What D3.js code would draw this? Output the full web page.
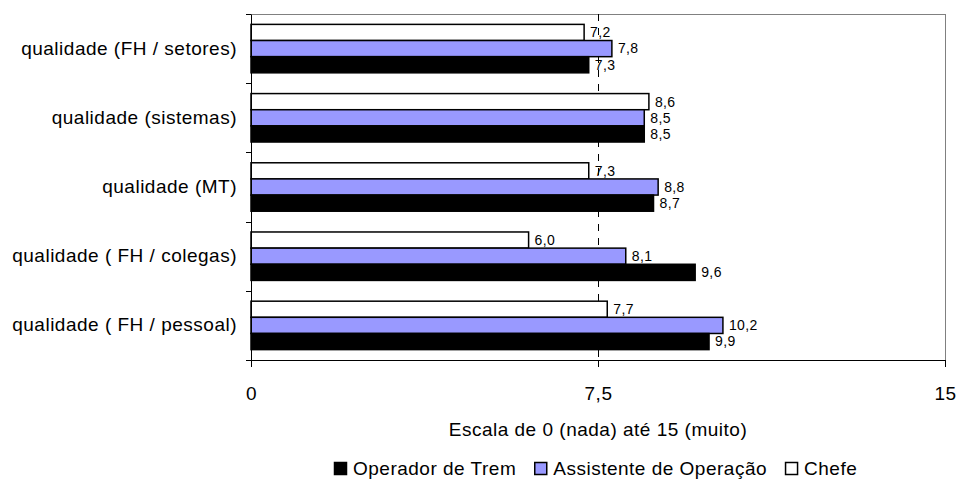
<!DOCTYPE html>
<html>
<head>
<meta charset="utf-8">
<script src="https://cdn.jsdelivr.net/npm/d3@7"></script>
<style>
  html, body { margin: 0; padding: 0; background: #ffffff; }
  svg { display: block; font-family: "Liberation Sans", Arial, sans-serif; }
</style>
</head>
<body>
<svg id="chart" width="958" height="480"></svg>
<script>
// ---- data ----
const categories = [
  "qualidade (FH / setores)",
  "qualidade (sistemas)",
  "qualidade (MT)",
  "qualidade ( FH / colegas)",
  "qualidade ( FH / pessoal)"
];
const seriesNames = ["Operador de Trem", "Assistente de Operação", "Chefe"];
const operadorTrem = [7.3, 8.5, 8.7, 9.6, 9.9];
const assistenteOperacao = [7.8, 8.5, 8.8, 8.1, 10.2];
const chefe = [7.2, 8.6, 7.3, 6.0, 7.7];
const xTicks = [0, 7.5, 15];
const axisTitle = "Escala de 0 (nada) até 15 (muito)";

(function () {
// ---- layout ----
const svg = d3.select("#chart");
const pLeft = 251, pRight = 945, pTop = 14, pBottom = 360;
const FS = 19, LS = 0.5;
const seriesColors = { "Operador de Trem": "#000000", "Assistente de Operação": "#9999FF", "Chefe": "#FFFFFF" };
// order within group from top to bottom
const drawOrder = ["Chefe", "Assistente de Operação", "Operador de Trem"];
const valuesBySeries = {
  "Operador de Trem": operadorTrem,
  "Assistente de Operação": assistenteOperacao,
  "Chefe": chefe
};
const fmt = v => d3.format(".1f")(v).replace(".", ",");

const x = d3.scaleLinear().domain([0, 15]).range([pLeft, pRight]);
const y = d3.scaleBand().domain(categories).range([pTop, pBottom]).paddingInner(0.3).paddingOuter(0.15);
const yInner = d3.scaleBand().domain(drawOrder).range([0, y.bandwidth()]).padding(0);

// plot border (top and right, gray)
svg.append("line").attr("x1", pLeft).attr("x2", pRight).attr("y1", pTop + 0.5).attr("y2", pTop + 0.5)
  .attr("stroke", "#808080").attr("stroke-width", 1);
svg.append("line").attr("x1", pRight + 0.5).attr("x2", pRight + 0.5).attr("y1", pTop).attr("y2", pBottom)
  .attr("stroke", "#808080").attr("stroke-width", 1);

// dashed gridline at 7.5
svg.append("line")
  .attr("x1", Math.round(x(7.5)) + 0.5).attr("x2", Math.round(x(7.5)) + 0.5)
  .attr("y1", pTop).attr("y2", pBottom)
  .attr("stroke", "#000").attr("stroke-width", 1).attr("stroke-dasharray", "7,7");

// bars
const groups = svg.append("g").selectAll("g").data(categories).join("g")
  .attr("transform", d => `translate(0,${y(d)})`);

groups.each(function (cat, i) {
  const g = d3.select(this);
  drawOrder.forEach(s => {
    const v = valuesBySeries[s][i];
    g.append("rect")
      .attr("x", x(0))
      .attr("y", yInner(s))
      .attr("width", x(v) - x(0))
      .attr("height", yInner.bandwidth())
      .attr("fill", seriesColors[s])
      .attr("stroke", "#000")
      .attr("stroke-width", 1.5);
    g.append("text")
      .attr("x", x(v) + 6)
      .attr("y", yInner(s) + yInner.bandwidth() / 2)
      .attr("dy", "0.35em")
      .attr("font-size", 14)
      .attr("letter-spacing", 0.4)
      .attr("fill", "#000")
      .text(fmt(v));
  });
});

// y axis
const yAxis = d3.axisLeft(y).tickSize(0).tickPadding(14);
const yg = svg.append("g").attr("transform", `translate(${pLeft},0)`).call(yAxis);
yg.select(".domain").attr("stroke", "#000").attr("stroke-width", 1);
yg.selectAll("text").attr("font-size", FS).attr("letter-spacing", LS).attr("fill", "#000")
  .attr("font-family", "Liberation Sans, Arial, sans-serif");
// category separator ticks on the left axis
const sepPositions = categories.map(c => y(c) - y.step() * y.paddingInner() / 2).concat([pBottom]);
svg.append("g").selectAll("line").data(sepPositions).join("line")
  .attr("x1", pLeft - 5).attr("x2", pLeft).attr("y1", d => Math.round(d) + 0.5).attr("y2", d => Math.round(d) + 0.5)
  .attr("stroke", "#000");

// x axis
const xAxis = d3.axisBottom(x).tickValues(xTicks).tickSize(7).tickPadding(20).tickFormat(d => fmt(d).replace(",0", ""));
const xg = svg.append("g").attr("transform", `translate(0,${pBottom})`).call(xAxis);
xg.select(".domain").attr("stroke", "#000").attr("d", `M${pLeft},0.5H${pRight}`);
xg.selectAll(".tick line").attr("stroke", "#000");
xg.selectAll("text").attr("font-size", FS).attr("letter-spacing", LS).attr("fill", "#000")
  .attr("font-family", "Liberation Sans, Arial, sans-serif");

// axis title
svg.append("text")
  .attr("x", (pLeft + pRight) / 2)
  .attr("y", 436)
  .attr("text-anchor", "middle")
  .attr("font-size", FS)
  .attr("letter-spacing", LS)
  .attr("fill", "#000")
  .text(axisTitle);

// legend
const legend = svg.append("g");
let cx = 0;
seriesNames.forEach((s, i) => {
  const item = legend.append("g").attr("transform", `translate(${cx},0)`);
  item.append("rect").attr("x", 0.5).attr("y", -12.5).attr("width", 12).attr("height", 12)
    .attr("fill", seriesColors[s]).attr("stroke", "#000").attr("stroke-width", 1.5);
  const t = item.append("text").attr("x", 19).attr("y", 0).attr("font-size", FS)
    .attr("letter-spacing", LS).attr("fill", "#000").text(s);
  cx += 19 + t.node().getComputedTextLength() + 18;
});
const legendWidth = cx - 18;
legend.attr("transform", `translate(${Math.round(596 - legendWidth / 2)},475)`);
})();
</script>
</body>
</html>
